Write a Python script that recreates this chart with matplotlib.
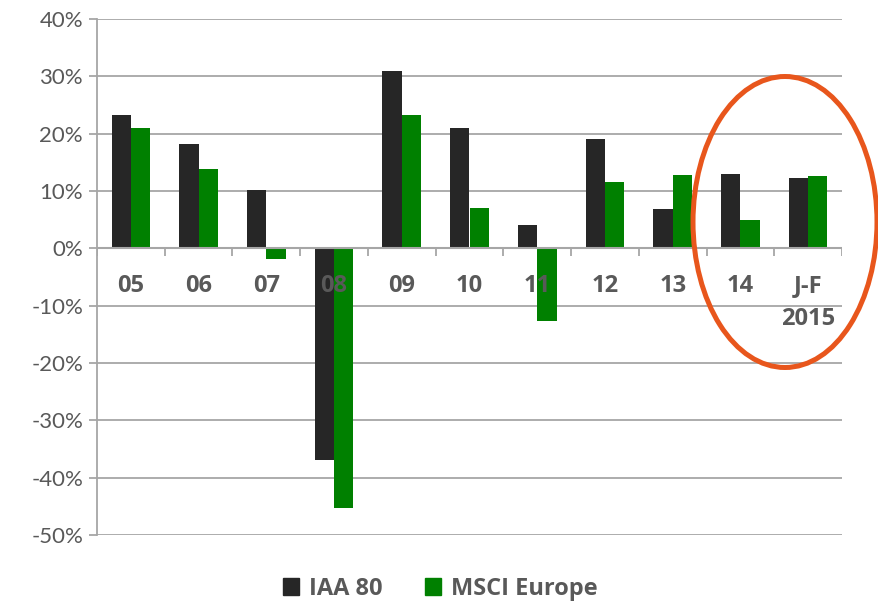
import matplotlib.pyplot as plt
import numpy as np
from matplotlib.patches import Ellipse, Patch

plt.rcParams['font.family'] = ['Lato', 'DejaVu Sans']

# data (percent)
categories = ['05', '06', '07', '08', '09', '10', '11', '12', '13', '14', 'J-F\n2015']
iaa80 = [23.2, 18.2, 10.1, -37.0, 30.9, 21.0, 4.0, 19.1, 6.8, 12.9, 12.2]
msci_europe = [21.0, 13.8, -1.8, -45.3, 23.3, 7.1, -12.6, 11.6, 12.8, 4.9, 12.6]

dark = '#262626'
green = '#008000'
grid_gray = '#a6a6a6'
text_gray = '#595959'
bold_font = ['Open Sans', 'DejaVu Sans']

fig = plt.figure(figsize=(8.79, 6.01), dpi=100)
ax = fig.add_axes([97 / 879, 1 - 535 / 601, (842 - 97) / 879, (535 - 19) / 601])

x = np.arange(len(categories))
w = 0.285
ax.bar(x - w / 2, iaa80, w, color=dark, zorder=3)
ax.bar(x + w / 2, msci_europe, w, color=green, zorder=3)

ax.set_xlim(-0.5, len(categories) - 0.5)
ax.set_ylim(-50, 40)
ax.set_yticks(np.arange(-50, 41, 10))
ax.set_yticklabels([f'{v}%' for v in range(-50, 41, 10)], fontsize=16, color=text_gray)
ax.yaxis.grid(True, color=grid_gray, lw=1.3, zorder=0)
ax.tick_params(axis='y', length=6, width=1.3, color=grid_gray, pad=4)
ax.set_xticks([])

for s in ['top', 'right', 'bottom']:
    ax.spines[s].set_visible(False)
ax.spines['left'].set_color(grid_gray)
ax.spines['left'].set_linewidth(1.3)

# zero line with category separators
ax.axhline(0, color=grid_gray, lw=1.5, zorder=4)
ax.vlines(np.arange(len(categories) + 1) - 0.5, -1.4, 0, color=grid_gray, lw=1.3, zorder=4)

# category labels sit just under the zero line
for i, lab in enumerate(categories):
    ax.text(i, -4.4, lab, ha='center', va='top', fontsize=17, fontweight='bold',
            family=bold_font, color=text_gray, zorder=5, linespacing=1.5)

# highlight ellipse (figure pixels)
ell = Ellipse((785, 601 - 222), 184, 291, transform=None, fill=False,
              edgecolor='#E8561C', lw=3.6, zorder=10)
fig.add_artist(ell)

handles = [Patch(color=dark, label='IAA 80'), Patch(color=green, label='MSCI Europe')]
fig.legend(handles=handles, loc='center', bbox_to_anchor=(440 / 879, 1 - 589 / 601),
           ncol=2, frameon=False, handlelength=0.7, handleheight=0.7,
           handletextpad=0.4, columnspacing=1.8,
           prop={'size': 17, 'weight': 'bold', 'family': bold_font}, labelcolor=text_gray)

fig.savefig('out.png', dpi=100)
